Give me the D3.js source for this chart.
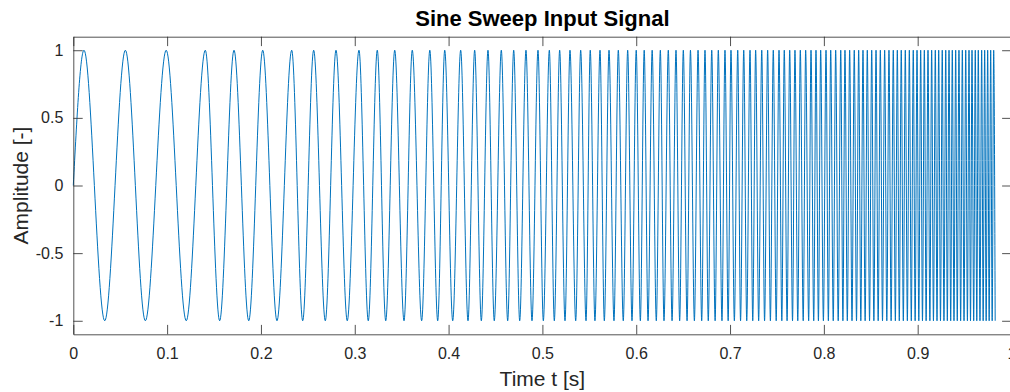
<!DOCTYPE html>
<html>
<head>
<meta charset="utf-8">
<script src="https://cdn.jsdelivr.net/npm/d3@7"></script>
<style>
  body { margin: 0; background: #fff; }
  text { font-family: "Liberation Sans", Arial, Helvetica, sans-serif; }
</style>
</head>
<body>
<div id="sweep"></div>
<script>
//chart text
var title = "Sine Sweep Input Signal";
var xLabel = "Time t [s]";
var yLabel = "Amplitude [-]";

//tick values and labels
var xTicks = [0, 0.1, 0.2, 0.3, 0.4, 0.5, 0.6, 0.7, 0.8, 0.9, 1];
var xTickLabels = ["0", "0.1", "0.2", "0.3", "0.4", "0.5", "0.6", "0.7", "0.8", "0.9", "1"];
var yTicks = [-1, -0.5, 0, 0.5, 1];
var yTickLabels = ["-1", "-0.5", "0", "0.5", "1"];

//signal starts at t = 0 with amplitude 0
var startTime = 0;
var startValue = 0;

//times of the positive peaks (+1)
var peakTimes = [0.0114, 0.0555, 0.0990, 0.1407, 0.1713, 0.2019, 0.2328, 0.2562, 0.2800, 0.3045,
  0.3240, 0.3426, 0.3613, 0.3800, 0.3959, 0.4129, 0.4278, 0.4420, 0.4562, 0.4694,
  0.4825, 0.4953, 0.5074, 0.5184, 0.5294, 0.5408, 0.5510, 0.5614, 0.5710, 0.5809,
  0.5909, 0.6000, 0.6085, 0.6170, 0.6257, 0.6342, 0.6424, 0.6502, 0.6578, 0.6659,
  0.6733, 0.6805, 0.6875, 0.6946, 0.7010, 0.7082, 0.7146, 0.7213, 0.7273, 0.7338,
  0.7401, 0.7461, 0.7522, 0.7578, 0.7636, 0.7692, 0.7749, 0.7806, 0.7863, 0.7916,
  0.7966, 0.8023, 0.8073, 0.8126, 0.8180, 0.8225, 0.8275, 0.8324, 0.8371, 0.8417,
  0.8463, 0.8510, 0.8556, 0.8602, 0.8648, 0.8694, 0.8740, 0.8783, 0.8825, 0.8868,
  0.8911, 0.8953, 0.8993, 0.9032, 0.9071, 0.9110, 0.9149, 0.9188, 0.9224, 0.9262,
  0.9299, 0.9334, 0.9369, 0.9405, 0.9440, 0.9476, 0.9512, 0.9547, 0.9579, 0.9614,
  0.9646, 0.9682, 0.9714, 0.9746, 0.9778, 0.9810];

//times of the negative peaks (-1)
var troughTimes = [0.0335, 0.0768, 0.1204, 0.1560, 0.1870, 0.2171, 0.2445, 0.2686, 0.2920, 0.3144,
  0.3330, 0.3525, 0.3713, 0.3884, 0.4044, 0.4207, 0.4349, 0.4487, 0.4630, 0.4758,
  0.4889, 0.5010, 0.5127, 0.5241, 0.5355, 0.5465, 0.5560, 0.5660, 0.5763, 0.5862,
  0.5955, 0.6044, 0.6126, 0.6214, 0.6296, 0.6382, 0.6463, 0.6542, 0.6620, 0.6698,
  0.6768, 0.6841, 0.6914, 0.6980, 0.7046, 0.7112, 0.7178, 0.7242, 0.7305, 0.7368,
  0.7430, 0.7492, 0.7552, 0.7608, 0.7666, 0.7722, 0.7780, 0.7838, 0.7892, 0.7942,
  0.7995, 0.8048, 0.8100, 0.8153, 0.8203, 0.8250, 0.8300, 0.8348, 0.8394, 0.8440,
  0.8487, 0.8533, 0.8579, 0.8625, 0.8671, 0.8717, 0.8762, 0.8804, 0.8847, 0.8890,
  0.8932, 0.8973, 0.9012, 0.9051, 0.9090, 0.9130, 0.9168, 0.9206, 0.9243, 0.9280,
  0.9316, 0.9352, 0.9387, 0.9422, 0.9458, 0.9494, 0.9530, 0.9563, 0.9597, 0.9630,
  0.9664, 0.9698, 0.9730, 0.9762, 0.9794, 0.9826];

//setting dimensions and margins
var W = 1010, H = 392;
var margin = {top: 36.7, right: -1.5, bottom: 57.7, left: 73.3},
    width = W - margin.left - margin.right,
    height = H - margin.top - margin.bottom,
    tickLen = 9.4,
    axisColor = "#262626";

//appending svg object to body
var svg = d3.select('#sweep')
    .append('svg')
    .attr('width', W)
    .attr('height', H)
    .style('display', 'block');

var g = svg.append('g')
    .attr('transform', 'translate(' + margin.left + ',' + margin.top + ')');

//scales (MATLAB style limits)
var x = d3.scaleLinear().domain([0, 1]).range([0, width]);
var y = d3.scaleLinear().domain([-1.1, 1.1]).range([height, 0]);

//building the extrema list
var points = [{t: startTime, v: startValue}]
  .concat(peakTimes.map(function(t) { return {t: t, v: 1}; }))
  .concat(troughTimes.map(function(t) { return {t: t, v: -1}; }));
points.sort(function(a, b) { return a.t - b.t; });

//signal line
var line = d3.line()
    .x(function(d) { return x(d.t); })
    .y(function(d) { return y(d.v); })
    .curve(d3.curveMonotoneX);

g.append('path')
    .datum(points)
    .attr('d', line)
    .attr('fill', 'none')
    .attr('stroke', '#0072BD')
    .attr('stroke-width', 1);

//axes with inward ticks
function styleAxis(sel) {
  sel.select('.domain').attr('stroke', axisColor).attr('stroke-width', 0.8);
  sel.selectAll('.tick line').attr('stroke', axisColor).attr('stroke-width', 0.8);
  sel.selectAll('.tick text')
    .attr('fill', axisColor)
    .style('font-size', '16px');
}

g.append('g')
    .attr('transform', 'translate(0,' + height + ')')
    .call(d3.axisBottom(x).tickValues(xTicks)
      .tickFormat(function(d, i) { return xTickLabels[i]; })
      .tickSizeInner(-tickLen).tickSizeOuter(0).tickPadding(13.5))
    .call(styleAxis);

g.append('g')
    .call(d3.axisTop(x).tickValues(xTicks).tickFormat('')
      .tickSizeInner(-tickLen).tickSizeOuter(0))
    .call(styleAxis);

g.append('g')
    .call(d3.axisLeft(y).tickValues(yTicks)
      .tickFormat(function(d, i) { return yTickLabels[i]; })
      .tickSizeInner(-tickLen).tickSizeOuter(0).tickPadding(10))
    .call(styleAxis);

g.append('g')
    .attr('transform', 'translate(' + width + ',0)')
    .call(d3.axisRight(y).tickValues(yTicks).tickFormat('')
      .tickSizeInner(-tickLen).tickSizeOuter(0))
    .call(styleAxis);

//title and labels
svg.append('text')
    .attr('x', margin.left + width / 2)
    .attr('y', 26)
    .attr('text-anchor', 'middle')
    .style('font-size', '22px')
    .style('font-weight', 'bold')
    .attr('fill', '#000')
    .text(title);

svg.append('text')
    .attr('x', margin.left + width / 2)
    .attr('y', 386)
    .attr('text-anchor', 'middle')
    .style('font-size', '21px')
    .attr('fill', axisColor)
    .text(xLabel);

svg.append('text')
    .attr('transform', 'translate(28,' + (margin.top + height / 2) + ') rotate(-90)')
    .attr('text-anchor', 'middle')
    .style('font-size', '21px')
    .attr('fill', axisColor)
    .text(yLabel);
</script>
</body>
</html>
